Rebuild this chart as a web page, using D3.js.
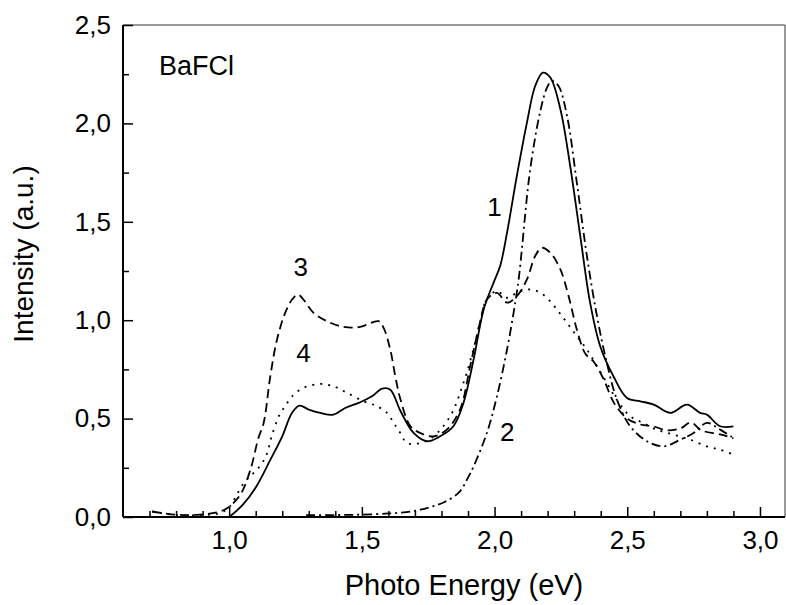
<!DOCTYPE html>
<html>
<head>
<meta charset="utf-8">
<script src="https://cdn.jsdelivr.net/npm/d3@7"></script>
<style>
  body { margin: 0; background: #fff; }
  svg text { font-family: "Liberation Sans", Arial, Helvetica, sans-serif; fill: #000; }
</style>
</head>
<body>
<div id="chart"></div>
<script>
// curve 1 - solid
const curve1 = [[1.00,0.00],[1.05,0.06],[1.10,0.15],[1.155,0.29],[1.20,0.41],[1.237,0.53],[1.265,0.566],
  [1.30,0.546],[1.343,0.529],[1.393,0.52],[1.437,0.554],[1.494,0.583],[1.538,0.613],[1.576,0.652],[1.607,0.647],
  [1.645,0.54],[1.695,0.427],[1.745,0.385],[1.795,0.41],[1.845,0.461],[1.883,0.58],[1.921,0.80],[1.959,1.054],
  [1.996,1.19],[2.021,1.275],[2.047,1.445],[2.084,1.733],[2.122,2.004],[2.153,2.19],[2.182,2.258],[2.21,2.233],
  [2.248,2.072],[2.285,1.783],[2.323,1.427],[2.36,1.089],[2.398,0.868],[2.448,0.715],[2.499,0.605],[2.55,0.588],
  [2.60,0.571],[2.662,0.529],[2.725,0.571],[2.775,0.529],[2.80,0.52],[2.85,0.461],[2.90,0.461]];

// curve 2 - dash dot
const curve2 = [[1.29,0.01],[1.40,0.01],[1.50,0.012],[1.60,0.018],[1.667,0.025],[1.72,0.037],[1.767,0.054],
  [1.81,0.075],[1.866,0.125],[1.90,0.2],[1.921,0.257],[1.971,0.427],[2.009,0.613],[2.047,0.851],[2.078,1.09],
  [2.091,1.21],[2.104,1.376],[2.116,1.546],[2.128,1.70],[2.147,1.88],[2.172,2.06],[2.197,2.18],[2.216,2.216],
  [2.241,2.19],[2.273,2.038],[2.31,1.699],[2.348,1.326],[2.386,1.02],[2.423,0.783],[2.461,0.597],[2.511,0.461],
  [2.574,0.385],[2.637,0.359],[2.70,0.393],[2.75,0.427],[2.80,0.478],[2.85,0.444],[2.90,0.402]];

// curve 3 - dashed
const curve3 = [[0.71,0.028],[0.80,0.012],[0.89,0.012],[0.966,0.028],[0.998,0.05],[1.042,0.113],[1.08,0.24],
  [1.11,0.40],[1.13,0.478],[1.155,0.715],[1.18,0.90],[1.211,1.037],[1.237,1.105],[1.259,1.13],[1.28,1.105],
  [1.318,1.037],[1.368,0.995],[1.431,0.966],[1.494,0.966],[1.563,0.995],[1.582,0.961],[1.607,0.851],[1.626,0.715],
  [1.645,0.60],[1.683,0.461],[1.72,0.427],[1.77,0.41],[1.82,0.444],[1.87,0.546],[1.908,0.766],[1.945,0.987],
  [1.971,1.105],[2.009,1.139],[2.047,1.089],[2.084,1.122],[2.122,1.207],[2.153,1.326],[2.178,1.368],[2.21,1.343],
  [2.248,1.258],[2.279,1.122],[2.31,0.953],[2.342,0.83],[2.373,0.79],[2.411,0.70],[2.45,0.58],[2.50,0.50],
  [2.55,0.47],[2.60,0.46],[2.65,0.44],[2.70,0.45],[2.74,0.48],[2.78,0.44],[2.85,0.42],[2.90,0.40]];

// curve 4 - dotted
const curve4 = [[0.71,0.028],[0.80,0.01],[0.89,0.01],[0.966,0.02],[1.00,0.05],[1.054,0.17],[1.117,0.26],
  [1.142,0.32],[1.16,0.41],[1.19,0.52],[1.211,0.563],[1.237,0.613],[1.28,0.656],[1.343,0.676],[1.393,0.664],
  [1.444,0.631],[1.506,0.588],[1.557,0.563],[1.595,0.529],[1.62,0.478],[1.645,0.427],[1.67,0.376],[1.72,0.376],
  [1.77,0.41],[1.833,0.512],[1.883,0.682],[1.92,0.851],[1.945,0.987],[1.97,1.105],[2.009,1.148],[2.047,1.114],
  [2.084,1.139],[2.122,1.156],[2.16,1.148],[2.197,1.114],[2.235,1.054],[2.273,0.987],[2.31,0.919],[2.348,0.851],
  [2.386,0.766],[2.423,0.682],[2.46,0.597],[2.511,0.512],[2.56,0.478],[2.61,0.444],[2.674,0.419],[2.737,0.393],
  [2.80,0.359],[2.85,0.342],[2.90,0.317]];

const xMajorTicks = [1.0, 1.5, 2.0, 2.5, 3.0];
const xMinorTicks = [0.7, 0.8, 0.9, 1.1, 1.2, 1.3, 1.4, 1.6, 1.7, 1.8, 1.9, 2.1, 2.2, 2.3, 2.4, 2.6, 2.7, 2.8, 2.9];
const yMajorTicks = [0.0, 0.5, 1.0, 1.5, 2.0, 2.5];
const yMinorTicks = [0.25, 0.75, 1.25, 1.75, 2.25];

// curve number labels, anchored in data units
const curveLabels = [
  { text: "1", e: 2.0, v: 1.53 },
  { text: "2", e: 2.048, v: 0.385 },
  { text: "3", e: 1.27, v: 1.225 },
  { text: "4", e: 1.28, v: 0.79 }
];

function drawSpectra(containerId) {
  const margin = { top: 25, right: 1, bottom: 88, left: 123 },
        width = 786 - margin.left - margin.right,
        height = 605 - margin.top - margin.bottom;

  d3.select(`#${containerId}`).html("");

  const svgRoot = d3.select(`#${containerId}`)
      .append("svg")
          .attr("width", 786)
          .attr("height", 605);
  const svg = svgRoot.append("g")
      .attr("transform", `translate(${margin.left},${margin.top})`);

  const x = d3.scaleLinear()
      .domain([0.6, 0.6 + width / 265.4])
      .range([0, width]);
  const y = d3.scaleLinear()
      .domain([0, 2.5])
      .range([height, 0]);

  const fmt = d => d3.format(".1f")(d).replace(".", ",");

  // frame: top and right in grey
  svg.append("line")
      .attr("x1", 0).attr("x2", width).attr("y1", 0).attr("y2", 0)
      .attr("stroke", "#777").attr("stroke-width", 1.5);
  svg.append("line")
      .attr("x1", width).attr("x2", width).attr("y1", 0).attr("y2", height)
      .attr("stroke", "#777").attr("stroke-width", 1.5);

  // x axis, ticks pointing inward
  const xAxis = svg.append("g")
      .attr("transform", `translate(0,${height})`)
      .call(d3.axisBottom(x).tickValues(xMajorTicks).tickFormat(fmt).tickSize(-10).tickPadding(14));
  svg.append("g")
      .attr("transform", `translate(0,${height})`)
      .call(d3.axisBottom(x).tickValues(xMinorTicks).tickFormat("").tickSize(-6));

  const yAxis = svg.append("g")
      .call(d3.axisLeft(y).tickValues(yMajorTicks).tickFormat(fmt).tickSize(-10).tickPadding(12));
  svg.append("g")
      .call(d3.axisLeft(y).tickValues(yMinorTicks).tickFormat("").tickSize(-6));

  svg.selectAll(".domain").remove();
  svg.selectAll(".tick line").attr("stroke", "#000").attr("stroke-width", 1.5);
  svg.selectAll(".tick text").style("font-size", "26px").attr("fill", "#000");

  svg.append("line")
      .attr("x1", 0).attr("x2", width).attr("y1", height).attr("y2", height)
      .attr("stroke", "#000").attr("stroke-width", 2);
  svg.append("line")
      .attr("x1", 0).attr("x2", 0).attr("y1", 0).attr("y2", height)
      .attr("stroke", "#000").attr("stroke-width", 2);

  // curves
  const line = d3.line()
      .x(d => x(d[0]))
      .y(d => y(d[1]))
      .curve(d3.curveCatmullRom.alpha(0.5));

  const series = [
    { data: curve1, dash: null },
    { data: curve2, dash: "9,4,2,4" },
    { data: curve3, dash: "9,5" },
    { data: curve4, dash: "2,6" }
  ];

  svg.selectAll(".curve")
      .data(series)
      .join("path")
          .attr("class", "curve")
          .attr("fill", "none")
          .attr("stroke", "#000")
          .attr("stroke-width", 1.8)
          .attr("stroke-dasharray", d => d.dash)
          .attr("d", d => line(d.data));

  // curve numbers
  svg.selectAll(".clabel")
      .data(curveLabels)
      .join("text")
          .attr("class", "clabel")
          .attr("x", d => x(d.e))
          .attr("y", d => y(d.v))
          .attr("text-anchor", "middle")
          .style("font-size", "26px")
          .text(d => d.text);

  svg.append("text")
      .attr("x", x(0.736))
      .attr("y", y(2.245))
      .style("font-size", "27px")
      .text("BaFCl");

  // axis labels
  svgRoot.append("text")
      .attr("x", 464)
      .attr("y", 595)
      .attr("text-anchor", "middle")
      .style("font-size", "29px")
      .text("Photo Energy (eV)");

  svgRoot.append("text")
      .attr("transform", "rotate(-90)")
      .attr("x", -254)
      .attr("y", 33)
      .attr("text-anchor", "middle")
      .style("font-size", "28px")
      .text("Intensity (a.u.)");
}

document.addEventListener("DOMContentLoaded", function () {
  drawSpectra("chart");
});
</script>
</body>
</html>
